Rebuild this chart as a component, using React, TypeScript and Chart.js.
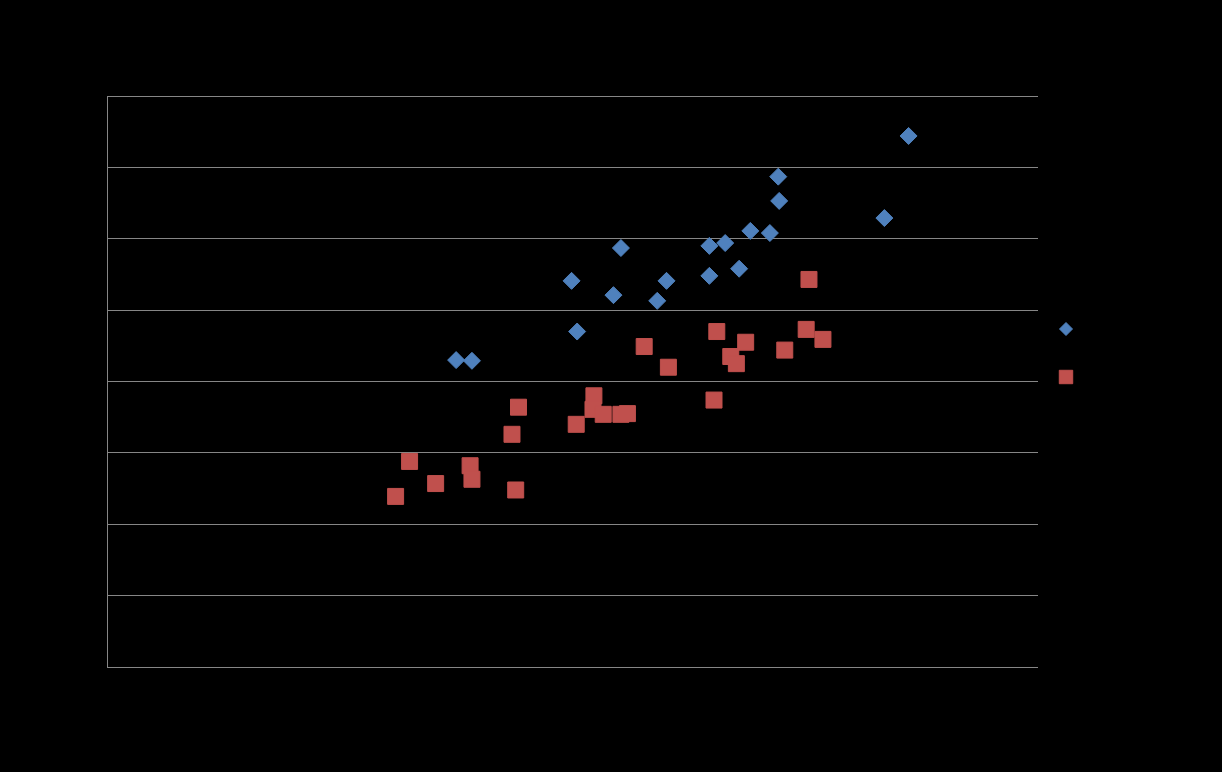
import React, { useEffect, useRef } from "react";
import { Chart, registerables } from "chart.js";

Chart.register(...registerables);

// Series 1 (blue diamonds)
const series1X = [37.5, 39.2, 49.9, 50.5, 54.4, 55.2, 59.1, 60.1, 64.7, 64.7, 66.4, 67.9, 69.1, 71.2, 72.1, 72.2, 83.5, 86.1];
const series1Y = [4.30, 4.29, 5.41, 4.70, 5.21, 5.87, 5.13, 5.41, 5.48, 5.90, 5.94, 5.58, 6.11, 6.08, 6.87, 6.53, 6.29, 7.44];

// Series 2 (red squares)
const series2X = [44.2, 43.5, 32.5, 39.0, 39.2, 35.3, 43.9, 31.0, 57.7, 60.3, 52.3, 52.2, 53.3, 55.2, 55.9, 50.4, 75.4, 65.5, 75.1, 76.9, 68.6, 72.8, 67.0, 67.6, 65.2];
const series2Y = [3.64, 3.26, 2.88, 2.82, 2.63, 2.57, 2.48, 2.39, 4.49, 4.20, 3.80, 3.61, 3.54, 3.54, 3.55, 3.40, 5.43, 4.70, 4.73, 4.59, 4.55, 4.44, 4.35, 4.25, 3.74];

const yTicks = [0, 1, 2, 3, 4, 5, 6, 7, 8];
const xMin = 0;
const xMax = 100;

const BLUE = "#4F81BD";
const RED = "#C0504D";

const legendMarkers = {
  id: "legendMarkers",
  afterDraw(chart: any) {
    const ctx = chart.ctx;
    const area = chart.chartArea;
    const styles = [
      { style: "rectRot", radius: 6.5, color: BLUE },
      { style: "rect", radius: 9.5, color: RED },
    ];
    styles.forEach((s, i) => {
      ctx.save();
      ctx.fillStyle = s.color;
      ctx.strokeStyle = s.color;
      ctx.lineWidth = 1;
      const x = area.right + 28;
      const y = area.top + 233 + i * 48;
      (Chart as any).helpers
        ? null
        : null;
      drawMarker(ctx, s.style, s.radius, x, y);
      ctx.restore();
    });
  },
};

function drawMarker(ctx: CanvasRenderingContext2D, style: string, r: number, x: number, y: number) {
  ctx.beginPath();
  if (style === "rectRot") {
    ctx.moveTo(x - r, y);
    ctx.lineTo(x, y - r);
    ctx.lineTo(x + r, y);
    ctx.lineTo(x, y + r);
    ctx.closePath();
  } else {
    const s = Math.SQRT1_2 * r;
    ctx.rect(x - s, y - s, 2 * s, 2 * s);
  }
  ctx.fill();
  ctx.stroke();
}

export default function App() {
  const ref = useRef<HTMLCanvasElement | null>(null);

  useEffect(() => {
    if (!ref.current) return;
    const d1 = series1X.map((x, i) => ({ x, y: series1Y[i] }));
    const d2 = series2X.map((x, i) => ({ x, y: series2Y[i] }));
    const chart = new Chart(ref.current, {
      type: "scatter",
      data: {
        datasets: [
          {
            label: "Series1",
            data: d1,
            pointStyle: "rectRot",
            pointRadius: 8.5,
            pointHoverRadius: 8.5,
            backgroundColor: BLUE,
            borderColor: BLUE,
            borderWidth: 1,
          },
          {
            label: "Series2",
            data: d2,
            pointStyle: "rect",
            pointRadius: 11.3,
            pointHoverRadius: 11.3,
            backgroundColor: RED,
            borderColor: RED,
            borderWidth: 1,
          },
        ],
      },
      options: {
        animation: false,
        responsive: true,
        maintainAspectRatio: false,
        layout: { padding: { left: 107, right: 184, top: 96, bottom: 105 } },
        plugins: {
          legend: { display: false },
          tooltip: { enabled: false },
          title: { display: false },
        },
        scales: {
          x: {
            type: "linear",
            min: xMin,
            max: xMax,
            grid: { display: false, drawTicks: false },
            border: { display: false },
            ticks: { display: false },
          },
          y: {
            type: "linear",
            min: yTicks[0],
            max: yTicks[yTicks.length - 1],
            afterBuildTicks: (scale: any) => {
              scale.ticks = yTicks.map((v) => ({ value: v }));
            },
            grid: { color: "#868686", lineWidth: 1, drawTicks: false },
            border: { display: true, color: "#868686", width: 1 },
            ticks: { display: false },
          },
        },
      },
      plugins: [legendMarkers],
    });
    return () => chart.destroy();
  }, []);

  return (
    <div
      style={{
        position: "fixed",
        left: 0,
        top: 0,
        width: 1222,
        height: 772,
        background: "#000000",
      }}
    >
      <canvas ref={ref} />
    </div>
  );
}
